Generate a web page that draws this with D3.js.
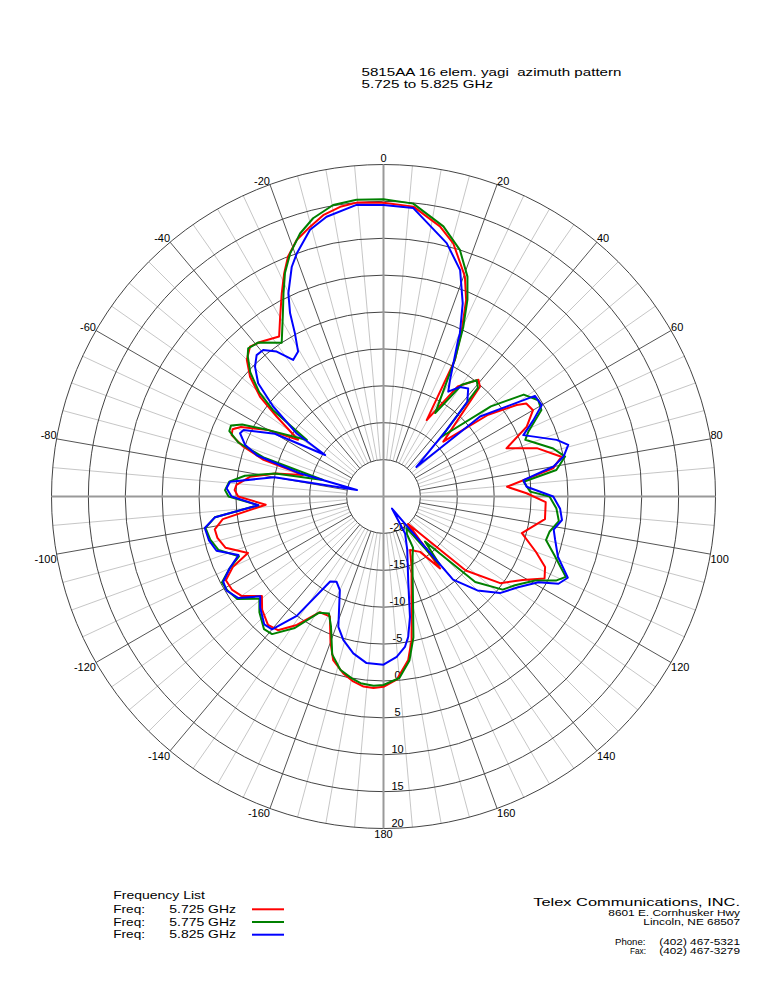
<!DOCTYPE html>
<html><head><meta charset="utf-8">
<script src="https://cdn.jsdelivr.net/npm/d3@7"></script>
<style>
body{margin:0;background:#fff}
text{font-family:"Liberation Sans",Arial,Helvetica,sans-serif;fill:#000;white-space:pre}
</style>
</head><body>
<svg id="chart" width="768" height="994"></svg>
<script>
// ---------- data ----------
const titleLines = ["5815AA 16 elem. yagi  azimuth pattern", "5.725 to 5.825 GHz"];
const angleTicks = [-160,-140,-120,-100,-80,-60,-40,-20,0,20,40,60,80,100,120,140,160,180];
const ringTicks = [-20,-15,-10,-5,0,5,10,15,20];
const freqLabels = ["5.725 GHz","5.775 GHz","5.825 GHz"];
const freqColors = ["#ff0000","#008000","#0000ff"];
const companyLines = ["Telex Communications, INC.", "8601 E. Cornhusker Hwy", "Lincoln, NE 68507"];
const contactLabels = ["Phone:", "Fax:"];
const contactNumbers = ["(402) 467-5321", "(402) 467-3279"];

// [azimuth deg (clockwise from 0), gain dB]
const gain5725 = [
[-180,0.8],[-177,1.0],[-174,0.9],[-170.7,0.4],[-167.2,-0.4],[-162.9,-1.8],[-160,-4],[-155.9,-7.2],
[-151.2,-7.1],[-146,-4],[-141.7,-1.9],[-138,-1.6],[-133,-2.5],[-129.3,-3.7],[-125,-1.5],[-121.7,-0.9],
[-118,-0.8],[-115,-2.5],[-112.6,-5.1],[-108,-2.5],[-104,-1.8],[-101,-1.7],[-98,-3],[-94,-9],
[-90,-5.3],[-87.5,-4.8],[-85.5,-5.0],[-81.6,-6.7],[-78,-10],[-75,-13.7],[-73,-8],[-70.4,-4.8],
[-68,-2.8],[-66,-2.6],[-64,-3.5],[-60,-7],[-56.4,-11.1],[-53.2,-6.9],[-51.1,-3.5],[-48.1,-0.7],
[-45,1.2],[-41.7,2.2],[-38.6,1.8],[-33.1,0.9],[-29.9,3.1],[-26.6,5.8],[-24,8.1],[-21.7,10.0],
[-18.7,11.7],[-15.2,12.9],[-12.1,14.0],[-8.5,14.7],[-5.2,15.0],[0,14.8],[5.9,14.5],[11.8,12.4],
[15.4,10.6],[20.3,6.8],[22.8,3.9],[25.2,-0.1],[27.6,-4.1],[29.5,-13.1],[34,-7],[39.1,-4.6],
[41.3,-5.2],[47.5,-14],[52,-7],[55.5,-3.1],[56.9,-1.9],[60,-1.6],[64,-3.4],[68.6,-7.1],
[72.5,-3.2],[77.4,-0.3],[80.6,-1.7],[85.5,-8.2],[88.7,-5.6],[92,-3],[98,-2.9],[104.8,-5.6],
[110,-3],[113.6,-1.1],[117,-0.5],[121,-3],[126.6,-5.3],[132,-10],[138,-20],[141.8,-12.6],
[146.5,-16],[153.6,-16.9],[158.1,-14.8],[164.8,-10.5],[168.9,-5.2],[171.4,-2.6],[175.9,-0.1]
];
const gain5775 = [
[-180,0.55],[-177,0.7],[-173,0.5],[-170,0.0],[-166,-0.8],[-162,-2.5],[-158,-6],[-155,-7.5],
[-151,-7.0],[-146,-3.5],[-141,-1.0],[-138,-0.8],[-133,-2],[-129.5,-3.2],[-125,-0.8],[-121,-0.3],
[-118,-0.2],[-115,-2],[-112.5,-3.8],[-108,-1.5],[-104,-0.8],[-100,-0.5],[-97,-2],[-94,-8],
[-90,-4],[-87.7,-3.5],[-84.5,-4],[-81.5,-6],[-78,-10],[-74.7,-16.5],[-72,-8],[-69.6,-4],
[-67,-2.3],[-65,-2.2],[-63,-3.5],[-60,-7],[-53.6,-12.1],[-52,-6],[-50,-3],[-47,-0.3],
[-44,1.5],[-42.4,2.2],[-39.1,1.9],[-33.5,0.0],[-29.3,2.9],[-26.2,5.7],[-23.8,8.1],[-21,10.3],
[-17.6,12.4],[-14.2,13.9],[-9.8,15.1],[-5.2,15.4],[0,15.3],[5.8,14.9],[12.5,12.5],[17.2,10.0],
[20.9,6.9],[23.1,4.0],[25.2,0.4],[27.5,-4],[31.8,-11.7],[35,-6.5],[38.7,-4.8],[41,-5.5],
[44.2,-13.7],[50,-6],[54,-1.5],[58.1,-0.3],[61.3,-0.6],[65.9,-3.5],[68.2,-4.3],[74.2,-1.1],
[77.6,0.2],[81.3,-1.3],[84,-5.9],[88.1,-5.1],[90,-2.5],[94,-1.5],[98,-1.0],[102,-2],
[105,-2.2],[109,-0.5],[113.8,2.0],[116,1.0],[119,-1.5],[124,-3.5],[128,-4.5],[133,-8],
[137.4,-16.7],[140.5,-13],[143.9,-19.7],[148,-19],[150,-17],[154,-16],[158,-14.5],[164,-10.5],
[168,-5.5],[171,-2.5],[175,-0.3]
];
const gain5825 = [
[-180,-2.2],[-174.2,-2.3],[-169.1,-3.35],[-164.4,-4.8],[-160.9,-6.3],[-155,-11],[-151.2,-11.8],[-147.9,-11.4],
[-144,-5],[-140,-1.5],[-137,-1.3],[-132,-2.5],[-129,-3.5],[-125,-1],[-121,-0.2],[-118,-0.4],
[-115,-2],[-112,-3.8],[-108,-1.2],[-104,-0.6],[-100,-0.4],[-97,-2],[-94,-8],[-90,-4.4],
[-87,-3.7],[-84.5,-4.1],[-80,-10],[-76.4,-21.3],[-74.5,-13.2],[-72,-7],[-69.6,-5],[-66.2,-3.75],
[-64.6,-4.0],[-60,-8],[-54.6,-15.3],[-54,-10.4],[-50.8,-5.7],[-47.9,-2.1],[-44.7,-0.24],[-41.9,0.75],
[-39.4,0.7],[-36.4,-0.6],[-33.5,-2.8],[-30.5,-2.2],[-28.5,0.16],[-27,2.9],[-25.1,5.4],[-21.8,8.5],
[-19.6,10.0],[-15.4,12.5],[-11.5,13.7],[-5.3,14.7],[0,14.5],[5.9,14.3],[14,10.4],[18.7,7.4],
[22.3,3.3],[25.1,-0.6],[25.5,-1.5],[29.7,-6.8],[31.7,-8.3],[34.9,-6.9],[38.1,-6.4],[41.5,-7.85],
[43.5,-12.6],[48.1,-19],[50.4,-8],[56.4,-0.36],[60,-0.24],[63,-2.2],[66.3,-4.3],[71.9,-0.3],
[74.4,1.0],[77.5,0.0],[80,-1.6],[83.3,-5.9],[86.1,-5.55],[90,-2.0],[94,-1.0],[97.5,-0.6],
[101,-1.5],[104.2,-1.0],[109,0.0],[113.8,2.3],[116.5,1.5],[119,-1.0],[124,-3],[129.7,-4.5],
[135,-7],[140.1,-10.3],[145,-23],[149.7,-19.2],[156,-17.1],[164,-12.8],[167.6,-8.3],[170,-5.7],
[171.9,-4.4],[175.3,-3.2]
];
const seriesList = [gain5725, gain5775, gain5825];

// ---------- layout ----------
const svg = d3.select("#chart");
const cx = 383.5, cy = 496.5, R = 332;
const rScale = d3.scaleLinear().domain([-25, 20]).range([0, R]).clamp(true);
const toRad = d => d * Math.PI / 180;

svg.append("rect").attr("width",768).attr("height",994).attr("fill","#fff");

// title
const titleWidths = [260, 131.5];
svg.append("g").selectAll("text").data(titleLines).join("text")
  .attr("x", 361.5).attr("y", (d,i) => 76 + i*12)
  .attr("font-size", 10.5)
  .attr("textLength", (d,i) => titleWidths[i]).attr("lengthAdjust", "spacingAndGlyphs")
  .text(d => d);

const g = svg.append("g").attr("transform", `translate(${cx},${cy})`);

// spokes every 5 degrees
const spokeAngles = d3.range(0, 360, 5);
g.append("g").selectAll("line").data(spokeAngles.filter(a => a % 90 !== 0)).join("line")
  .attr("x1", a => rScale(-20) * Math.sin(toRad(a)))
  .attr("y1", a => -rScale(-20) * Math.cos(toRad(a)))
  .attr("x2", a => R * Math.sin(toRad(a)))
  .attr("y2", a => -R * Math.cos(toRad(a)))
  .attr("stroke", a => a % 20 === 0 ? "#555" : "#b8b8b8")
  .attr("stroke-width", a => a % 20 === 0 ? 1 : 0.8);

// rings
g.append("g").selectAll("circle").data(ringTicks).join("circle")
  .attr("r", d => rScale(d)).attr("fill", "none")
  .attr("stroke", "#444").attr("stroke-width", 1);

// main axes
g.append("g").selectAll("line").data([0,90,180,270]).join("line")
  .attr("x1", 0).attr("y1", 0)
  .attr("x2", a => R * Math.sin(toRad(a)))
  .attr("y2", a => -R * Math.cos(toRad(a)))
  .attr("stroke", "#999").attr("stroke-width", 2);

// angle labels
g.append("g").selectAll("text").data(angleTicks).join("text")
  .attr("x", a => R * Math.sin(toRad(a)))
  .attr("y", a => -R * Math.cos(toRad(a)))
  .attr("font-size", 11)
  .attr("text-anchor", a => (a === 0 || a === 180) ? "middle" : (a > 0 ? "start" : "end"))
  .attr("dy", a => {
    const c = Math.cos(toRad(a));
    if (a === 0) return "-0.25em";
    if (a === 180) return "0.85em";
    return c > 0 ? "0em" : "0.8em";
  })
  .text(a => a);

// ring labels along the 180 axis
g.append("g").selectAll("text").data(ringTicks).join("text")
  .attr("x", 14).attr("y", d => rScale(d) - 2)
  .attr("font-size", 11).attr("text-anchor", "middle")
  .text(d => d);

// curves
const radial = d3.lineRadial()
  .angle(d => toRad(d[0]))
  .radius(d => rScale(d[1]))
  .curve(d3.curveLinearClosed);

g.append("g").selectAll("path").data(seriesList).join("path")
  .attr("d", radial)
  .attr("fill", "none")
  .attr("stroke", (d,i) => freqColors[i])
  .attr("stroke-width", 2)
  .attr("stroke-linejoin", "round");

// legend
const lg = svg.append("g");
lg.append("text").attr("x", 113.3).attr("y", 899).attr("font-size", 11)
  .attr("textLength", 91.7).attr("lengthAdjust", "spacingAndGlyphs").text("Frequency List");
const rows = lg.selectAll("g.row").data(freqLabels).join("g").attr("class","row")
  .attr("transform", (d,i) => `translate(0,${909.3 + i*12.7})`);
rows.append("text").attr("x", 113.3).attr("y", 3.5).attr("font-size", 11)
  .attr("textLength", 31.7).attr("lengthAdjust", "spacingAndGlyphs").text("Freq:");
rows.append("text").attr("x", 169.3).attr("y", 3.5).attr("font-size", 11)
  .attr("textLength", 66.7).attr("lengthAdjust", "spacingAndGlyphs").text(d => d);
rows.append("line").attr("x1", 252).attr("x2", 284).attr("y1", 0).attr("y2", 0)
  .attr("stroke", (d,i) => freqColors[i]).attr("stroke-width", 2);

// company block
const cg = svg.append("g");
const companyWidths = [206.7, 131.7, 96.7];
const companyY = [906, 915.5, 924.8];
const companySize = [11, 8.5, 8.5];
cg.selectAll("text.co").data(companyLines).join("text").attr("class","co")
  .attr("x", (d,i) => 740 - companyWidths[i]).attr("y", (d,i) => companyY[i])
  .attr("font-size", (d,i) => companySize[i])
  .attr("textLength", (d,i) => companyWidths[i]).attr("lengthAdjust", "spacingAndGlyphs")
  .text(d => d);
const labelStarts = [615, 630];
const labelWidths = [30.5, 16];
cg.selectAll("text.lab").data(contactLabels).join("text").attr("class","lab")
  .attr("x", (d,i) => labelStarts[i]).attr("y", (d,i) => 945 + i*9)
  .attr("font-size", 8.5)
  .attr("textLength", (d,i) => labelWidths[i]).attr("lengthAdjust", "spacingAndGlyphs")
  .text(d => d);
cg.selectAll("text.num").data(contactNumbers).join("text").attr("class","num")
  .attr("x", 659.3).attr("y", (d,i) => 945 + i*9)
  .attr("font-size", 8.5)
  .attr("textLength", 80.7).attr("lengthAdjust", "spacingAndGlyphs")
  .text(d => d);
</script>
</body></html>
